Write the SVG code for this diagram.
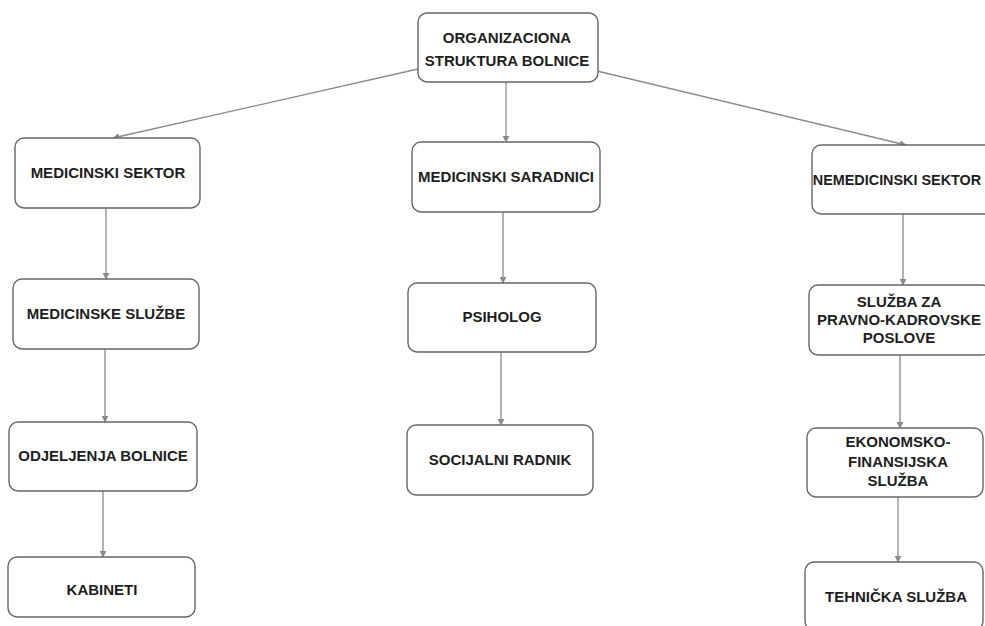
<svg xmlns="http://www.w3.org/2000/svg" width="985" height="626" viewBox="0 0 985 626">
<style>
.box{fill:#fff;stroke:#666;stroke-width:1.4}
.t{font-family:"Liberation Sans",Arial,sans-serif;font-weight:bold;font-size:15px;fill:#1e1e1e;text-anchor:middle}
.c{fill:none;stroke:#8a8a8a;stroke-width:1.3}
</style>
<defs>
<marker id="ah" viewBox="0 0 10 10" refX="9" refY="5" markerWidth="7" markerHeight="7" orient="auto" markerUnits="userSpaceOnUse">
<path d="M0,0 L10,5 L0,10 z" fill="#8a8a8a"/>
</marker>
</defs>
<rect width="985" height="626" fill="#fff"/>
<g id="connectors">
<line class="c" x1="418" y1="69" x2="113" y2="138" marker-end="url(#ah)"/>
<line class="c" x1="506" y1="82" x2="506" y2="142" marker-end="url(#ah)"/>
<line class="c" x1="597" y1="71" x2="906" y2="145" marker-end="url(#ah)"/>
<line class="c" x1="106" y1="208" x2="106" y2="279" marker-end="url(#ah)"/>
<line class="c" x1="105" y1="349" x2="105" y2="422" marker-end="url(#ah)"/>
<line class="c" x1="103" y1="491" x2="103" y2="557" marker-end="url(#ah)"/>
<line class="c" x1="503" y1="212" x2="503" y2="283" marker-end="url(#ah)"/>
<line class="c" x1="501" y1="352" x2="501" y2="425" marker-end="url(#ah)"/>
<line class="c" x1="903" y1="214" x2="903" y2="285" marker-end="url(#ah)"/>
<line class="c" x1="900" y1="355" x2="900" y2="428" marker-end="url(#ah)"/>
<line class="c" x1="898" y1="497" x2="898" y2="562" marker-end="url(#ah)"/>
</g>
<g id="n-root"><rect class="box" x="418" y="13" width="180" height="69" rx="9"/>
<text class="t" x="507" y="43">ORGANIZACIONA</text><text class="t" x="507" y="66">STRUKTURA BOLNICE</text></g>
<g id="n-med-sektor"><rect class="box" x="15" y="138" width="185" height="70" rx="9"/>
<text class="t" x="108" y="178">MEDICINSKI SEKTOR</text></g>
<g id="n-med-sluzbe"><rect class="box" x="13" y="279" width="186" height="70" rx="9"/>
<text class="t" x="106" y="319">MEDICINSKE SLUŽBE</text></g>
<g id="n-odjeljenja"><rect class="box" x="9" y="422" width="188" height="69" rx="9"/>
<text class="t" x="103" y="461">ODJELJENJA BOLNICE</text></g>
<g id="n-kabineti"><rect class="box" x="8" y="557" width="187" height="60" rx="9"/>
<text class="t" x="102" y="595">KABINETI</text></g>
<g id="n-saradnici"><rect class="box" x="412" y="142" width="188" height="70" rx="9"/>
<text class="t" x="506" y="182">MEDICINSKI SARADNICI</text></g>
<g id="n-psiholog"><rect class="box" x="408" y="283" width="188" height="69" rx="9"/>
<text class="t" x="502" y="322">PSIHOLOG</text></g>
<g id="n-socijalni"><rect class="box" x="407" y="425" width="186" height="70" rx="9"/>
<text class="t" x="500" y="465">SOCIJALNI RADNIK</text></g>
<g id="n-nemed"><rect class="box" x="812" y="145" width="182" height="69" rx="9"/>
<text class="t" x="897" y="185" style="font-size:14.4px">NEMEDICINSKI SEKTOR</text></g>
<g id="n-pravno"><rect class="box" x="809" y="285" width="182" height="70" rx="9"/>
<text class="t" x="899" y="307">SLUŽBA ZA</text><text class="t" x="899" y="325">PRAVNO-KADROVSKE</text><text class="t" x="899" y="343">POSLOVE</text></g>
<g id="n-ekonomsko"><rect class="box" x="807" y="428" width="176" height="69" rx="9"/>
<text class="t" x="898" y="447">EKONOMSKO-</text><text class="t" x="898" y="467">FINANSIJSKA</text><text class="t" x="898" y="486">SLUŽBA</text></g>
<g id="n-tehnicka"><rect class="box" x="805" y="562" width="178" height="68" rx="9"/>
<text class="t" x="896" y="602">TEHNIČKA SLUŽBA</text></g>
</svg>
